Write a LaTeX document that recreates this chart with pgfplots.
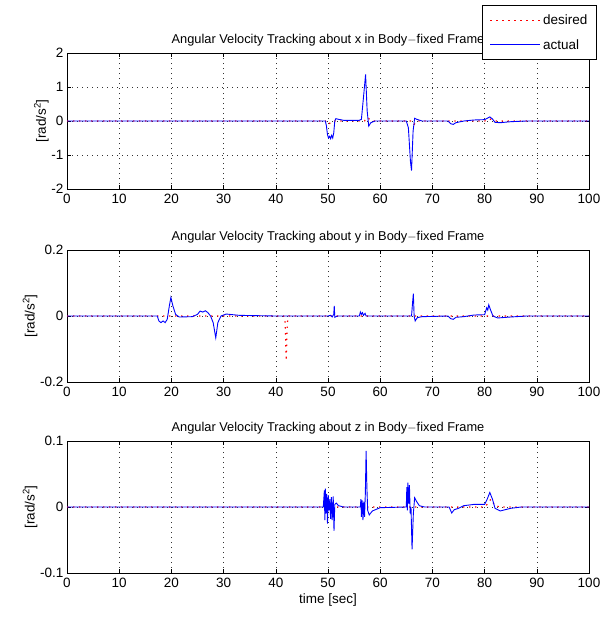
\documentclass[border=0pt]{standalone}
\usepackage{pgfplots}
\pgfplotsset{compat=1.18}
\usepackage{fontspec}
\setmainfont{Liberation Sans}
\begin{document}
\begin{tikzpicture}
\useasboundingbox (0,0) rectangle (611bp,-619bp);
\pgfplotsset{
  every axis/.append style={
    scale only axis, width=522bp,
    xmin=0, xmax=100, xtick={0,10,...,100},
    grid=major, major grid style={black!80, line width=0.6bp, dash pattern=on 0.7bp off 4.3bp},
    tick align=inside, xtick pos=both, ytick pos=both,
    major tick length=4bp, tick style={black, line width=0.5bp},
    axis line style={black, line width=0.8bp},
    /pgf/number format/assume math mode=true,
    ticklabel style={font=\fontsize{13.5bp}{15bp}\selectfont},
    xticklabel style={yshift=-2bp},
    title style={font=\fontsize{12.8bp}{14bp}\selectfont, yshift=-3bp},
    label style={font=\fontsize{13.5bp}{15bp}\selectfont},
    ylabel={[rad/s$^{\mathrm{2}}$]},
    ylabel style={yshift=-4bp},
    clip=true,
  },
  des/.style={draw=red, red, line width=1.2bp, dash pattern=on 1.4bp off 4.6bp},
  act/.style={draw=blue, blue, line width=0.9bp},
}
% top
\begin{axis}[at={(67bp,-189bp)}, anchor=south west, height=136bp,
  ymin=-2, ymax=2, ytick={-2,-1,0,1,2},
  title={Angular Velocity Tracking about x in Body$-$fixed Frame},
  legend style={at={(1.0153,0.9485)}, anchor=south east, line width=1bp, fill=white,
    font=\fontsize{13.5bp}{15bp}\selectfont, cells={anchor=west}, row sep=9bp, inner xsep=7bp, inner ysep=7bp},
]
\addplot[des, legend image code/.code={%
  \pgfsetstrokecolor{red}\pgfsetlinewidth{1.5bp}\pgfsetdash{{1.8bp}{4.2bp}}{0bp}%
  \pgfpathmoveto{\pgfpoint{0bp}{0bp}}\pgfpathlineto{\pgfpoint{50bp}{0bp}}\pgfusepath{stroke}}] coordinates {(0,0) (49.5,0) (50,-0.1) (50.5,-0.05) (51,0) (57,0) (57.5,0.1) (58,0.05) (58.5,0) (66,0) (66.5,-0.1) (67,0) (80,0) (81,0.06) (82,0) (100,0)};
\addlegendentry{desired}
\addplot[act, legend image code/.code={\draw[draw=blue, line width=0.9bp] (0bp,0bp) -- (50bp,0bp);}] coordinates {(0,0) (49.5,0) (49.7,-0.15) (49.9,-0.4) (50.1,-0.5) (50.3,-0.45) (50.5,-0.52) (50.7,-0.42) (50.9,-0.5) (51.1,-0.35) (51.3,0.0) (51.5,0.07) (52,0.05) (53,0.02) (56,0.02) (56.4,0.05) (56.8,0.7) (57.2,1.37) (57.5,0.3) (57.8,-0.15) (58.2,-0.05) (59,0.0) (65,0) (65.4,-0.2) (65.8,-1.2) (66.0,-1.46) (66.3,-0.3) (66.6,0.08) (67,0.05) (68,0.0) (73,0.0) (73.5,-0.08) (74,-0.1) (74.5,-0.05) (76,0.0) (78,0.03) (80,0.04) (80.5,0.08) (81,0.12) (81.5,0.06) (82,-0.04) (83,-0.05) (85,-0.02) (88,0) (100,0)};
\addlegendentry{actual}
\end{axis}
% middle
\begin{axis}[at={(67bp,-382bp)}, anchor=south west, height=132bp,
  ymin=-0.2, ymax=0.2, ytick={-0.2,0,0.2},
  yticklabel style={/pgf/number format/fixed},
  title={Angular Velocity Tracking about y in Body$-$fixed Frame},
]
\addplot[des] coordinates {(0,0) (41.5,0) (41.8,-0.02) (42,-0.135) (42.2,-0.02) (42.5,0) (100,0)};
\addplot[act] coordinates {(0,0) (17.3,0) (17.6,-0.015) (18,-0.02) (18.4,-0.015) (18.8,-0.02) (19.2,-0.01) (19.6,0.03) (19.9,0.056) (20.3,0.03) (20.8,0.005) (21.5,-0.003) (24,-0.002) (25,0.005) (25.5,0.015) (26,0.012) (26.5,0.016) (27,0.01) (27.5,0.0) (28,-0.02) (28.5,-0.066) (28.9,-0.02) (29.5,0.0) (30.5,0.006) (33,0.002) (40,0) (50,0) (50.5,0.002) (50.8,-0.003) (51.1,0.005) (51.2,0.031) (51.3,-0.004) (51.8,0.0) (56,0) (56.2,0.012) (56.4,0.005) (56.6,0.01) (56.8,0.002) (57.1,0.008) (57.3,0) (66,0) (66.2,0.04) (66.35,0.068) (66.5,0.0) (66.7,-0.015) (67.1,-0.005) (68,-0.002) (73,0) (73.5,-0.008) (74,-0.01) (74.5,-0.004) (76,-0.002) (78,0.003) (80,0.004) (80.4,0.025) (80.6,0.018) (80.8,0.034) (81.1,0.02) (81.6,0.0) (82.5,-0.006) (85,-0.003) (88,0) (100,0)};
\end{axis}
% bottom
\begin{axis}[at={(67bp,-573bp)}, anchor=south west, height=132bp,
  ymin=-0.1, ymax=0.1, ytick={-0.1,0,0.1},
  yticklabel style={/pgf/number format/fixed},
  title={Angular Velocity Tracking about z in Body$-$fixed Frame},
  xlabel={time [sec]}, xlabel style={yshift=1bp},
]
\addplot[des] coordinates {(0,0) (80,0) (80.5,0.004) (81.2,0.012) (82,0.002) (83,0) (100,0)};
\addplot[act] coordinates {(0,0) (49.1,0) (49.3,0.025) (49.4,-0.02) (49.5,0.028) (49.6,-0.01) (49.75,0.02) (49.9,-0.025) (50.05,0.018) (50.2,-0.005) (50.35,0.012) (50.5,-0.018) (50.65,0.015) (50.8,-0.02) (51.0,0.016) (51.15,-0.036) (51.3,0.004) (51.6,0.006) (52,0.002) (53,0) (56.2,0) (56.3,0.012) (56.4,-0.015) (56.55,0.01) (56.7,-0.02) (56.85,0.008) (57.0,-0.015) (57.15,0.02) (57.3,0.085) (57.45,0.03) (57.6,-0.005) (57.9,-0.012) (58.5,-0.006) (60,-0.001) (65,0) (65.1,0.03) (65.2,-0.005) (65.3,0.037) (65.45,0.005) (65.6,0.033) (65.75,-0.01) (65.9,0.0) (66.1,-0.064) (66.35,-0.01) (66.6,0.014) (67,0.008) (67.5,0.002) (68.5,0.0) (73.2,0) (73.7,-0.009) (74.2,-0.004) (75,-0.002) (76,0.002) (78,0.004) (80,0.004) (80.5,0.012) (81,0.022) (81.5,0.012) (82,-0.002) (83,-0.006) (85,-0.002) (87,0) (100,0)};
\end{axis}
\end{tikzpicture}
\end{document}
